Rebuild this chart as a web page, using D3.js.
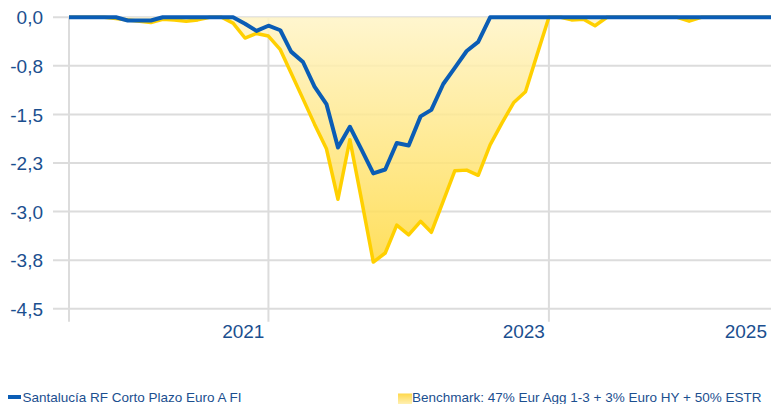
<!DOCTYPE html>
<html>
<head>
<meta charset="utf-8">
<script src="https://cdn.jsdelivr.net/npm/d3@7"></script>
<style>
    body { margin: 0; background: #fff; }
    svg { display: block; font-family: "Liberation Sans", Arial, sans-serif; }
</style>
</head>
<body>
<div id="chart"></div>
<script>
// Monthly drawdown data (%)
var startMonth = new Date(2019, 7, 1);

var fundValues = [
    0, 0, 0, 0, 0, -0.05, -0.05, -0.05, 0, 0,
    0, 0, 0, 0, 0, -0.10, -0.21, -0.13, -0.20, -0.53,
    -0.69, -1.07, -1.34, -2.01, -1.69, -2.05, -2.41, -2.35, -1.94, -1.98,
    -1.53, -1.43, -1.03, -0.78, -0.52, -0.38, 0, 0, 0, 0,
    0, 0, 0, 0, 0, 0, 0, 0, 0, 0,
    0, 0, 0, 0, 0, 0, 0, 0, 0, 0,
    0
];

var benchValues = [
    0, 0, 0, 0, -0.02, -0.04, -0.06, -0.08, -0.03, -0.04,
    -0.06, -0.04, 0, 0, -0.09, -0.32, -0.25, -0.29, -0.50, -0.86,
    -1.26, -1.65, -2.03, -2.81, -1.89, -2.84, -3.78, -3.64, -3.21, -3.36,
    -3.15, -3.32, -2.84, -2.37, -2.36, -2.44, -1.97, -1.63, -1.32, -1.15,
    -0.58, 0, 0, -0.04, -0.03, -0.13, 0, 0, 0, 0,
    0, 0, 0, -0.06, 0, 0, 0, 0, 0, 0,
    0
];

var yTicks = [0, -0.75, -1.5, -2.25, -3, -3.75, -4.5];
var yTickLabels = ["0,0", "-0,8", "-1,5", "-2,3", "-3,0", "-3,8", "-4,5"];

// vertical grid lines sit on these month indexes
var xGridIndex = [0, 17, 41];
var xTickIndex = [17, 41, 60];
var xTickLabels = ["2021", "2023", "2025"];

var fundName = "Santalucía RF Corto Plazo Euro A FI";
var benchName = "Benchmark: 47% Eur Agg 1-3 + 3% Euro HY + 50% ESTR";

var svgWidth = 771;
var svgHeight = 404;

var margin = { top: 17.3, right: 0, bottom: 95.3, left: 69 };
var height = svgHeight - margin.top - margin.bottom;

var blue = "#0b5db5";
var yellow = "#ffd000";
var labelColor = "#1b4f8f";

var data = fundValues.map(function(v, i) {
    return {
        date: d3.timeMonth.offset(startMonth, i),
        fund: v,
        bench: benchValues[i]
    };
});

var svg = d3.select("#chart")
    .append("svg")
    .attr("width", svgWidth)
    .attr("height", svgHeight);

// gradient for the benchmark area
var grad = svg.append("defs").append("linearGradient")
    .attr("id", "benchFill")
    .attr("gradientUnits", "userSpaceOnUse")
    .attr("x1", 0).attr("x2", 0)
    .attr("y1", margin.top).attr("y2", margin.top + 250);
grad.append("stop").attr("offset", "0%").attr("stop-color", "#fff4c6");
grad.append("stop").attr("offset", "100%").attr("stop-color", "#ffd93f");

var legendGrad = svg.select("defs").append("linearGradient")
    .attr("id", "legendFill")
    .attr("x1", 0).attr("x2", 0).attr("y1", 0).attr("y2", 1);
legendGrad.append("stop").attr("offset", "0%").attr("stop-color", "#ffd84a");
legendGrad.append("stop").attr("offset", "100%").attr("stop-color", "#fff1b8");

// Scales
var x = d3.scaleTime()
    .domain([data[0].date, data[data.length - 1].date])
    .range([margin.left, svgWidth]);

var y = d3.scaleLinear()
    .domain([-4.5, 0])
    .range([margin.top + height, margin.top]);

// Horizontal grid lines
svg.append("g")
    .selectAll("line")
    .data(yTicks)
    .enter()
    .append("line")
    .attr("x1", 53)
    .attr("x2", svgWidth)
    .attr("y1", d => y(d))
    .attr("y2", d => y(d))
    .attr("stroke", "#dcdcdc")
    .attr("stroke-width", 2);

// Vertical grid lines (run a bit below the plot as tick marks)
svg.append("g")
    .selectAll("line")
    .data(xGridIndex)
    .enter()
    .append("line")
    .attr("x1", d => x(data[d].date))
    .attr("x2", d => x(data[d].date))
    .attr("y1", y(0))
    .attr("y2", y(-4.5) + 13)
    .attr("stroke", "#dcdcdc")
    .attr("stroke-width", 2);

// Y axis labels
var leftAxis = d3.axisLeft(y)
    .tickValues(yTicks)
    .tickSize(0)
    .tickPadding(0)
    .tickFormat((d, i) => yTickLabels[i]);

var yAxis = svg.append("g")
    .attr("transform", "translate(43,0)")
    .call(leftAxis);
yAxis.select(".domain").remove();
yAxis.selectAll("text")
    .attr("fill", labelColor)
    .style("font-size", "19px")
    .attr("dy", "0.35em");

// X axis labels, right aligned against their tick
svg.append("g")
    .selectAll("text")
    .data(xTickIndex)
    .enter()
    .append("text")
    .attr("x", d => x(data[d].date) - 4)
    .attr("y", 338)
    .attr("text-anchor", "end")
    .attr("fill", labelColor)
    .style("font-size", "19px")
    .text((d, i) => xTickLabels[i]);

// Benchmark area + line
var area = d3.area()
    .x(d => x(d.date))
    .y0(y(0))
    .y1(d => y(d.bench));

svg.append("path")
    .datum(data)
    .attr("d", area)
    .attr("fill", "url(#benchFill)")
    .attr("fill-opacity", 0.85);

var benchLine = d3.line()
    .x(d => x(d.date))
    .y(d => y(d.bench));

svg.append("path")
    .datum(data)
    .attr("d", benchLine)
    .attr("fill", "none")
    .attr("stroke", yellow)
    .attr("stroke-width", 3.5)
    .attr("stroke-linejoin", "round");

// Fund line
var fundLine = d3.line()
    .x(d => x(d.date))
    .y(d => y(d.fund));

svg.append("path")
    .datum(data)
    .attr("d", fundLine)
    .attr("fill", "none")
    .attr("stroke", blue)
    .attr("stroke-width", 4)
    .attr("stroke-linejoin", "round");

// Legend
var legend = svg.append("g");

legend.append("rect")
    .attr("x", 8)
    .attr("y", 395)
    .attr("width", 13)
    .attr("height", 4)
    .attr("fill", blue);

legend.append("text")
    .attr("x", 22.5)
    .attr("y", 401.8)
    .attr("fill", labelColor)
    .style("font-size", "13.5px")
    .text(fundName);

legend.append("rect")
    .attr("x", 398)
    .attr("y", 393.5)
    .attr("width", 14)
    .attr("height", 11)
    .attr("fill", "url(#legendFill)");

legend.append("text")
    .attr("x", 412)
    .attr("y", 401.8)
    .attr("fill", labelColor)
    .style("font-size", "13.5px")
    .text(benchName);
</script>
</body>
</html>
